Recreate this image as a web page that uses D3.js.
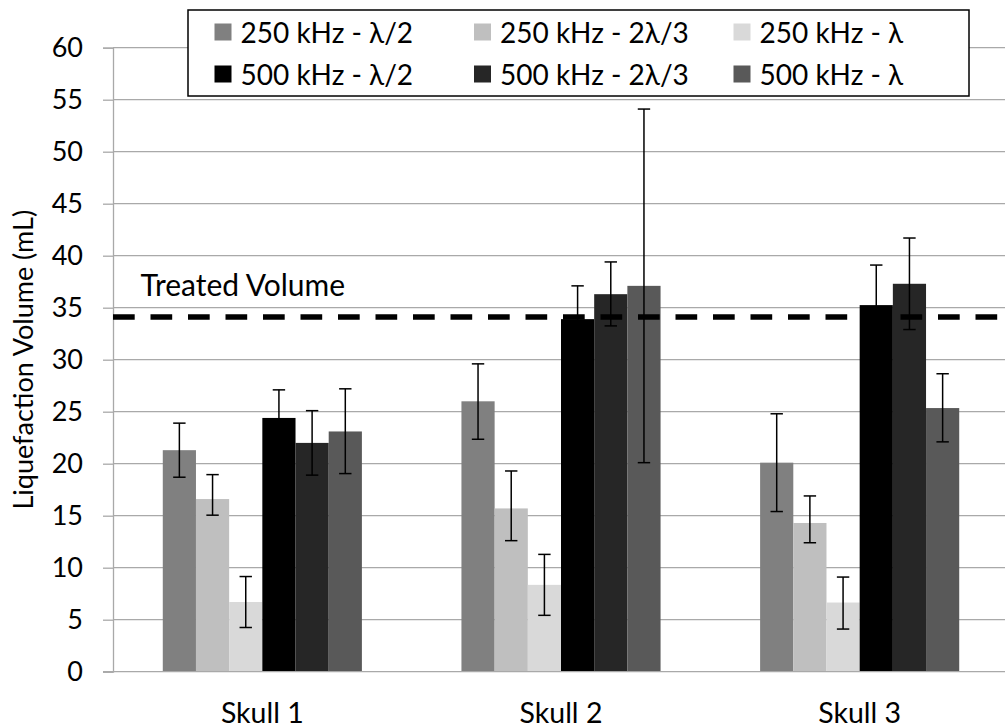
<!DOCTYPE html>
<html>
<head>
<meta charset="utf-8">
<script src="https://cdn.jsdelivr.net/npm/d3@7"></script>
<style>
  html, body { margin: 0; padding: 0; background: #fff; }
  svg { display: block; font-family: Lato, "Open Sans", sans-serif; }
</style>
</head>
<body>
<svg id="chart" width="1005" height="728"></svg>
<script>
// Liquefaction volume per skull, grouped by frequency / focal spacing
const skulls = ["Skull 1", "Skull 2", "Skull 3"];
const seriesNames = [
  "250 kHz - λ/2", "250 kHz - 2λ/3", "250 kHz - λ",
  "500 kHz - λ/2", "500 kHz - 2λ/3", "500 kHz - λ"
];
const seriesColors = ["#808080", "#bfbfbf", "#d9d9d9", "#000000", "#262626", "#595959"];

// mean volume (mL), one row per series, one column per skull
const meanVolume = [
  [21.3, 26.0, 20.1],
  [16.6, 15.7, 14.3],
  [6.7, 8.35, 6.65],
  [24.4, 33.9, 35.25],
  [22.0, 36.3, 37.3],
  [23.1, 37.1, 25.35]
];
// error bar extents above / below the mean
const errPlus = [
  [2.6, 3.6, 4.7],
  [2.35, 3.6, 2.6],
  [2.45, 2.93, 2.45],
  [2.7, 3.2, 3.85],
  [3.1, 3.1, 4.4],
  [4.1, 17.0, 3.3]
];
const errMinus = [
  [2.6, 3.65, 4.7],
  [1.55, 3.1, 1.9],
  [2.45, 2.93, 2.55],
  [2.7, 3.2, 3.85],
  [3.1, 3.05, 4.4],
  [4.05, 17.0, 3.25]
];
const treatedVolume = 34.1;
const yTicks = [0, 5, 10, 15, 20, 25, 30, 35, 40, 45, 50, 55, 60];

const svg = d3.select("#chart");
const plot = { left: 113, right: 1009, top: 47.7, bottom: 671.7 };
const gridColor = "#a9a9a9";

const x0 = d3.scaleBand().domain(skulls).range([plot.left, plot.right]).padding(0);
const x1 = d3.scaleBand().domain(d3.range(seriesNames.length))
  .range([0, x0.bandwidth()]).paddingInner(0).paddingOuter(1.5);
const y = d3.scaleLinear().domain([0, 60]).range([plot.bottom, plot.top]);

// horizontal gridlines
svg.append("g")
  .selectAll("line")
  .data(yTicks.filter(d => d > 0))
  .join("line")
  .attr("x1", plot.left).attr("x2", plot.right)
  .attr("y1", d => y(d)).attr("y2", d => y(d))
  .attr("stroke", gridColor).attr("stroke-width", 1.3);

// y axis with outward ticks
const yAxis = svg.append("g")
  .attr("transform", `translate(${plot.left},0)`)
  .call(d3.axisLeft(y).tickValues(yTicks).tickSize(10).tickPadding(20).tickFormat(d3.format("d")));
yAxis.select(".domain").attr("stroke", gridColor).attr("stroke-width", 1.3);
yAxis.selectAll(".tick line").attr("stroke", gridColor).attr("stroke-width", 1.3);
yAxis.selectAll(".tick text")
  .attr("fill", "#000").style("font-size", "27px").style("font-family", "Lato, sans-serif");

// bars
const flat = [];
seriesNames.forEach((name, s) => {
  skulls.forEach((sk, k) => {
    flat.push({ s, sk, v: meanVolume[s][k], up: errPlus[s][k], dn: errMinus[s][k] });
  });
});

svg.append("g")
  .selectAll("rect")
  .data(flat)
  .join("rect")
  .attr("x", d => x0(d.sk) + x1(d.s))
  .attr("width", x1.bandwidth())
  .attr("y", d => y(d.v))
  .attr("height", d => y(0) - y(d.v))
  .attr("fill", d => seriesColors[d.s]);

// x axis line
svg.append("line")
  .attr("x1", plot.left - 10).attr("x2", plot.right)
  .attr("y1", plot.bottom).attr("y2", plot.bottom)
  .attr("stroke", gridColor).attr("stroke-width", 1.3);

// error bars
const capHalf = 6.2;
const eb = svg.append("g").attr("stroke", "#000").attr("stroke-width", 1.5);
flat.forEach(d => {
  const cx = x0(d.sk) + x1(d.s) + x1.bandwidth() / 2;
  const yTop = y(d.v + d.up), yBot = y(d.v - d.dn);
  eb.append("line").attr("x1", cx).attr("x2", cx).attr("y1", yTop).attr("y2", yBot);
  eb.append("line").attr("x1", cx - capHalf).attr("x2", cx + capHalf).attr("y1", yTop).attr("y2", yTop);
  eb.append("line").attr("x1", cx - capHalf).attr("x2", cx + capHalf).attr("y1", yBot).attr("y2", yBot);
});

// treated volume reference line
svg.append("line")
  .attr("x1", plot.left).attr("x2", plot.right)
  .attr("y1", y(treatedVolume)).attr("y2", y(treatedVolume))
  .attr("stroke", "#000").attr("stroke-width", 5.5)
  .attr("stroke-dasharray", "21.7,15.8");
svg.append("text")
  .attr("x", 140.5).attr("y", 296)
  .style("font-size", "30px")
  .text("Treated Volume");

// category labels
svg.append("g")
  .selectAll("text")
  .data(skulls)
  .join("text")
  .attr("x", d => x0(d) + x0.bandwidth() / 2)
  .attr("y", 722.5)
  .attr("text-anchor", "middle")
  .style("font-size", "28.5px")
  .text(d => d);

// y axis title
svg.append("text")
  .attr("transform", `translate(26,${(plot.top + plot.bottom) / 2}) rotate(-90)`)
  .attr("text-anchor", "middle")
  .attr("dominant-baseline", "middle")
  .style("font-size", "27px")
  .text("Liquefaction Volume (mL)");

// legend
const legend = svg.append("g");
legend.append("rect")
  .attr("x", 188).attr("y", 10).attr("width", 781).attr("height", 86)
  .attr("fill", "#fff").attr("stroke", "#000").attr("stroke-width", 1.5);
const colX = [214.5, 474, 733.5];
const rowY = [32, 74];
seriesNames.forEach((name, i) => {
  const cx = colX[i % 3], cy = rowY[Math.floor(i / 3)];
  legend.append("rect")
    .attr("x", cx).attr("y", cy - 8.5).attr("width", 17).attr("height", 17)
    .attr("fill", seriesColors[i]);
  legend.append("text")
    .attr("x", cx + 26).attr("y", cy)
    .attr("dominant-baseline", "central")
    .style("font-size", "28px")
    .text(name);
});
</script>
</body>
</html>
